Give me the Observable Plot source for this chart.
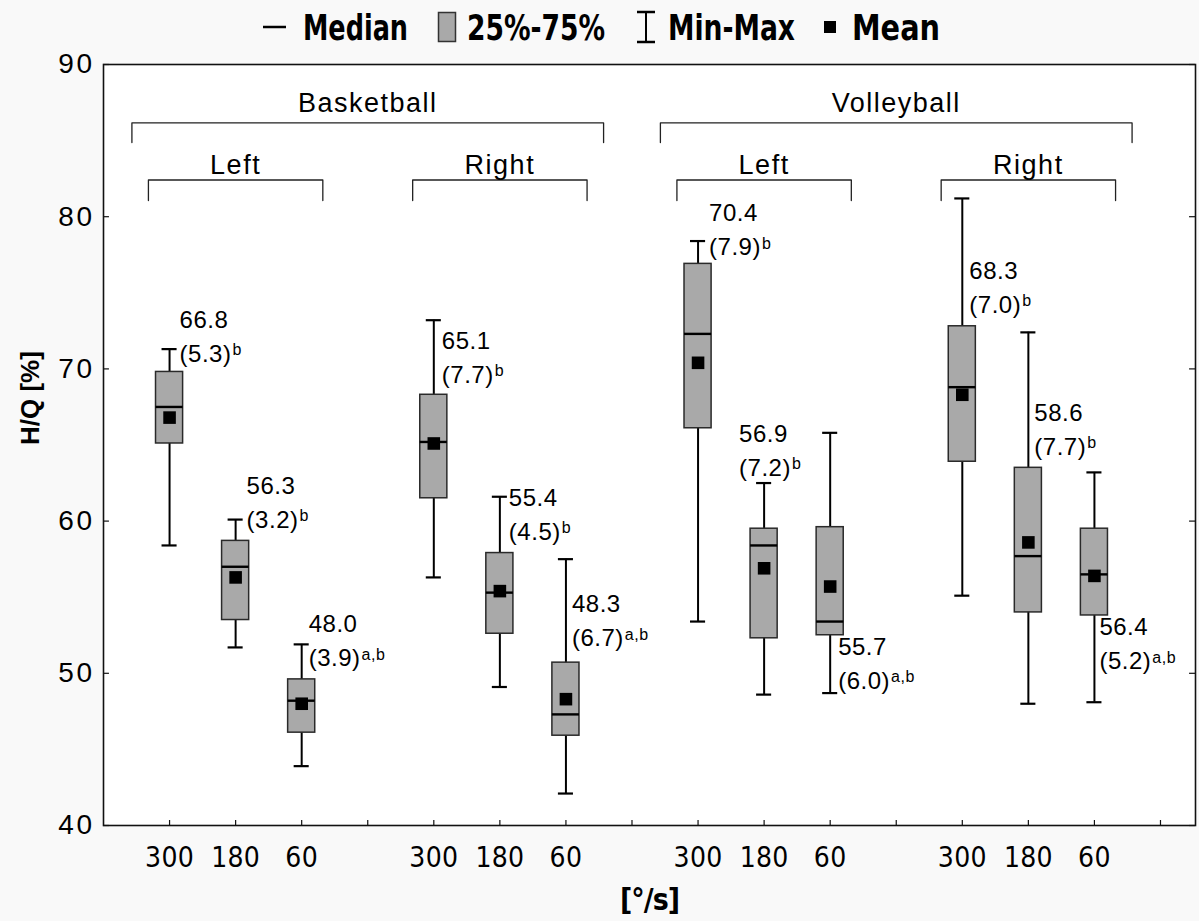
<!DOCTYPE html>
<html>
<head>
<meta charset="utf-8">
<script src="https://cdn.jsdelivr.net/npm/d3@7"></script>
<script src="https://cdn.jsdelivr.net/npm/@observablehq/plot@0.6"></script>
<style>
  body { margin: 0; background: #f9f9f9; width: 1199px; height: 921px; overflow: hidden; font-family: "Liberation Sans", Arial, sans-serif; }
  #legend { display: block; }
  .narrow { font-family: "Liberation Sans Narrow", "Arial Narrow", "DejaVu Sans Condensed", sans-serif; font-stretch: condensed; }
</style>
</head>
<body>
<svg id="legend" width="1199" height="50" xmlns="http://www.w3.org/2000/svg">
  <line x1="263" x2="286" y1="27" y2="27" stroke="#000" stroke-width="2.5"/>
  <text class="narrow" x="303" y="40" font-size="36" font-weight="bold" textLength="105" lengthAdjust="spacingAndGlyphs">Median</text>
  <rect x="438.5" y="12.5" width="17" height="29" fill="#a9a9a9" stroke="#333" stroke-width="1.5"/>
  <text class="narrow" x="467" y="40" font-size="36" font-weight="bold" textLength="138" lengthAdjust="spacingAndGlyphs">25%-75%</text>
  <line x1="646" x2="646" y1="12" y2="42" stroke="#000" stroke-width="2"/>
  <line x1="637" x2="655" y1="12" y2="12" stroke="#000" stroke-width="2.5"/>
  <line x1="637" x2="655" y1="42" y2="42" stroke="#000" stroke-width="2.5"/>
  <text class="narrow" x="668" y="40" font-size="36" font-weight="bold" textLength="127" lengthAdjust="spacingAndGlyphs">Min-Max</text>
  <rect x="824" y="21" width="12" height="12" fill="#000"/>
  <text class="narrow" x="852" y="40" font-size="36" font-weight="bold" textLength="88" lengthAdjust="spacingAndGlyphs">Mean</text>
</svg>
<div id="chart"></div>
<script>
// ---- data ----
const sport = ["Basketball","Basketball","Basketball","Basketball","Basketball","Basketball",
               "Volleyball","Volleyball","Volleyball","Volleyball","Volleyball","Volleyball"];
const side = ["Left","Left","Left","Right","Right","Right","Left","Left","Left","Right","Right","Right"];
const speed = [300,180,60,300,180,60,300,180,60,300,180,60];
const whiskerMin = [58.4, 51.7, 43.9, 56.3, 49.1, 42.1, 53.4, 48.6, 48.7, 55.1, 48.0, 48.1];
const q1 =         [65.1, 53.5, 46.1, 61.5, 52.6, 45.9, 66.1, 52.3, 52.5, 63.9, 54.0, 53.8];
const median =     [67.5, 57.0, 48.2, 65.2, 55.3, 47.3, 72.3, 58.4, 53.4, 68.8, 57.7, 56.5];
const q3 =         [69.8, 58.7, 49.6, 68.3, 57.9, 50.7, 76.9, 59.5, 59.6, 72.8, 63.5, 59.5];
const whiskerMax = [71.3, 60.1, 51.9, 73.2, 61.6, 57.5, 78.4, 62.5, 65.8, 81.2, 72.4, 63.2];
const mean =       [66.8, 56.3, 48.0, 65.1, 55.4, 48.3, 70.4, 56.9, 55.7, 68.3, 58.6, 56.4];
const sd =         ["5.3","3.2","3.9","7.7","4.5","6.7","7.9","7.2","6.0","7.0","7.7","5.2"];
const sup =        ["b","b","a,b","b","b","a,b","b","b","a,b","b","b","a,b"];
const yTicks = [40, 50, 60, 70, 80, 90];

// ---- annotation placement (label anchor in H/Q units, horizontal offset in px) ----
const labelY =  [73.2, 62.3, 53.2, 71.8, 61.5, 54.5, 80.2, 65.7, 51.7, 76.4, 67.1, 53.0];
const labelDx = [10, 11, 7, 8, 9, 6, 11, -25, 8, 7, 6, 5];

// ---- layout ----
const W = 1199, H = 871, mL = 103, mR = 4, mT = 14, mB = 96;
const xMax = 16.53;
const pxPerUnit = (W - mL - mR) / xMax;

const rows = speed.map((s, i) => ({
  slot: i + Math.floor(i / 3) + 1,
  sport: sport[i], side: side[i], speed: s,
  min: whiskerMin[i], q1: q1[i], median: median[i], q3: q3[i], max: whiskerMax[i],
  mean: mean[i], sd: sd[i], sup: sup[i], ly: labelY[i], lx: labelDx[i] / pxPerUnit
}));

// group brackets built from the rows
const sportGroups = Array.from(d3.group(rows, d => d.sport), ([k, v]) => ({name: k, center: d3.mean(v, d => d.slot)}));
const sideGroups = Array.from(d3.group(rows, d => d.sport + "|" + d.side), ([k, v]) => ({name: v[0].side, center: d3.mean(v, d => d.slot)}));

const bigHalf = 3.57, smallHalf = 1.32;
const bigTop = 86.16, bigLeg = 84.87, bigText = 87.44;
const smallTop = 82.41, smallLeg = 81.06, smallText = 83.36;
function bracketPts(groups, half, top, leg) {
  return groups.flatMap(g => [
    {g: g.name + g.center, x: g.center - half, y: leg},
    {g: g.name + g.center, x: g.center - half, y: top},
    {g: g.name + g.center, x: g.center + half, y: top},
    {g: g.name + g.center, x: g.center + half, y: leg}
  ]);
}

const narrow = '"Liberation Sans Narrow", "Arial Narrow", "DejaVu Sans Condensed", sans-serif';
const regular = '"Liberation Sans", Arial, sans-serif';
const capHalf = 0.114, boxHalf = 0.205, tickLenX = 0.09, tickLenY = 0.33;

const chart = Plot.plot({
  width: W, height: H,
  marginLeft: mL, marginRight: mR, marginTop: mT, marginBottom: mB,
  style: {background: "transparent", overflow: "visible"},
  x: {domain: [0, xMax], axis: null},
  y: {domain: [40, 90], axis: null},
  marks: [
    Plot.frame({fill: "white", stroke: null}),
    // axis ticks (inward)
    Plot.ruleY(yTicks, {y: d => d, x1: 0, x2: tickLenX, stroke: "#111", strokeWidth: 1.2}),
    Plot.ruleY(yTicks, {y: d => d, x1: xMax - tickLenX, x2: xMax, stroke: "#111", strokeWidth: 1.2}),
    Plot.ruleX(d3.range(1, 17), {x: d => d, y1: 40, y2: 40 + tickLenY, stroke: "#111", strokeWidth: 1.2}),
    Plot.frame({stroke: "#111", strokeWidth: 1.6}),
    // y tick labels
    Plot.text(yTicks, {frameAnchor: "left", y: d => d, text: d => String(d), textAnchor: "end", dx: -9,
      fontSize: 28, fontFamily: regular, fill: "#000", ariaDescription: "ytick"}),
    // x tick labels
    Plot.text(rows, {x: "slot", frameAnchor: "bottom", text: d => String(d.speed), dy: 33, lineAnchor: "middle",
      fontSize: 28, fontFamily: narrow, fill: "#000", ariaDescription: "xtick"}),
    // axis titles
    Plot.text(["H/Q [%]"], {frameAnchor: "left", dx: -73, rotate: -90, text: d => d, fontSize: 26,
      fontWeight: "bold", fontFamily: regular, fill: "#000"}),
    Plot.text(["[°/s]"], {frameAnchor: "bottom", dy: 84, text: d => d, fontSize: 30, fontWeight: "bold",
      fontFamily: narrow, fill: "#000", ariaDescription: "xtitle"}),
    // brackets
    Plot.line(bracketPts(sportGroups, bigHalf, bigTop, bigLeg), {x: "x", y: "y", z: "g", stroke: "#222", strokeWidth: 1.3}),
    Plot.line(bracketPts(sideGroups, smallHalf, smallTop, smallLeg), {x: "x", y: "y", z: "g", stroke: "#222", strokeWidth: 1.3}),
    Plot.text(sportGroups, {x: "center", y: () => bigText, text: "name", fontSize: 27, fontFamily: regular,
      fill: "#000", lineAnchor: "middle", ariaDescription: "grouplabel"}),
    Plot.text(sideGroups, {x: "center", y: () => smallText, text: "name", fontSize: 27, fontFamily: regular,
      fill: "#000", lineAnchor: "middle", ariaDescription: "grouplabel"}),
    // whiskers
    Plot.ruleX(rows, {x: "slot", y1: "min", y2: "max", stroke: "#000", strokeWidth: 2}),
    Plot.ruleY(rows, {y: "min", x1: d => d.slot - capHalf, x2: d => d.slot + capHalf, stroke: "#000", strokeWidth: 2.2}),
    Plot.ruleY(rows, {y: "max", x1: d => d.slot - capHalf, x2: d => d.slot + capHalf, stroke: "#000", strokeWidth: 2.2}),
    // boxes
    Plot.rect(rows, {x1: d => d.slot - boxHalf, x2: d => d.slot + boxHalf, y1: "q1", y2: "q3",
      fill: "#a9a9a9", stroke: "#2a2a2a", strokeWidth: 1.5}),
    // median
    Plot.ruleY(rows, {y: "median", x1: d => d.slot - boxHalf, x2: d => d.slot + boxHalf, stroke: "#000", strokeWidth: 2.4}),
    // mean
    Plot.dot(rows, {x: "slot", y: "mean", symbol: "square", r: 7.1, fill: "#000", stroke: null}),
    // annotations
    Plot.text(rows, {x: d => d.slot + d.lx, y: "ly", text: d => d.mean.toFixed(1), textAnchor: "start",
      lineAnchor: "middle", fontSize: 24, fontFamily: regular, fill: "#000", ariaDescription: "meanlabel"}),
    Plot.text(rows, {x: d => d.slot + d.lx, y: "ly", text: d => "(" + d.sd + ")|" + d.sup, textAnchor: "start",
      lineAnchor: "middle", dy: 34, fontSize: 24, fontFamily: regular, fill: "#000", ariaDescription: "sdlabel"})
  ]
});
document.getElementById("chart").appendChild(chart);

// superscripts and letter spacing
const svg = d3.select(chart);
svg.selectAll('[aria-description="sdlabel"] text').each(function() {
  const t = this.textContent;
  if (t.indexOf("|") < 0) return;
  const [a, b] = t.split("|");
  this.textContent = a;
  d3.select(this).append("tspan").attr("dy", "-0.42em").attr("dx", 1).attr("font-size", 16).text(b);
});
svg.selectAll('[aria-description="ytick"] text').attr("letter-spacing", 2.5);
svg.selectAll('[aria-description="grouplabel"] text').attr("letter-spacing", 1.5);
svg.selectAll('[aria-description="xtick"] text').attr("letter-spacing", 0.3);
svg.selectAll('[aria-description="xtitle"] text').attr("letter-spacing", -1);
svg.selectAll('[aria-description="meanlabel"] text, [aria-description="sdlabel"] text').attr("letter-spacing", 0.5);
</script>
</body>
</html>
